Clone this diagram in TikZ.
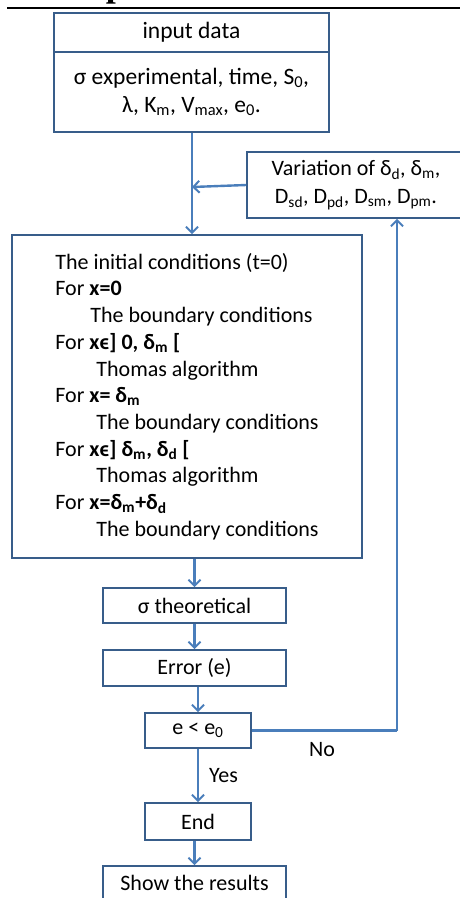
\documentclass[tikz,border=0pt]{standalone}
\usepackage{fontspec}
\setmainfont{Carlito}
\newfontfamily\headfont{Liberation Serif}
\usetikzlibrary{arrows.meta,positioning,calc}

\definecolor{boxline}{HTML}{385D8A}
\definecolor{flowline}{HTML}{4A7EBB}

\tikzset{
  blk/.style={draw=boxline, line width=1.8pt, inner sep=0pt, align=center,
              font=\fontsize{22}{28}\selectfont},
  flow/.style={draw=flowline, line width=2.4pt,
               -{Straight Barb[length=6pt,width=12pt,line width=2pt]}},
  loop/.style={draw=flowline, line width=2.4pt},
  lbl/.style={font=\fontsize{22}{28}\selectfont, inner sep=0pt}
}

\begin{document}
\begin{tikzpicture}[x=1pt,y=-1pt]
  \useasboundingbox (0,0) rectangle (459,898);
  % cut off heading of the page
  \node[anchor=base, inner sep=0pt, font=\headfont\bfseries\fontsize{36}{36}\selectfont] (head) at (116,-4) {p};
  \draw[line width=1.6pt] (7,8) -- (470,8);

  % input block
  \node[blk, minimum width=275pt, minimum height=39pt,
        font=\fontsize{23.5}{28}\selectfont] (input) at (191.5,32.5) {input data};
  \node[blk, minimum width=275pt, minimum height=80pt,
        font=\fontsize{23.5}{28}\selectfont] (param) at (191.5,92)
    {σ experimental, time, S\textsubscript{0},\\ λ, K\textsubscript{m}, V\textsubscript{max}, e\textsubscript{0}.};

  % variation of the parameters
  \node[blk, minimum width=218pt, minimum height=66pt] (vary) at (356,185)
    {Variation of δ\textsubscript{d}, δ\textsubscript{m},\\ D\textsubscript{sd}, D\textsubscript{pd}, D\textsubscript{sm}, D\textsubscript{pm}.};

  % numerical scheme
  \node[blk, minimum width=350pt, minimum height=323pt, align=left,
        font=\fontsize{22}{26.7}\selectfont] (scheme) at (187,396.5)
    {The initial conditions (t=0)\\
     For \textbf{x=0}\\
     \hspace{35pt}The boundary conditions\\
     For \textbf{xϵ] 0, δ\textsubscript{m} [}\\
     \hspace{41pt}Thomas algorithm\\
     For \textbf{x= δ\textsubscript{m}}\\
     \hspace{41pt}The boundary conditions\\
     For \textbf{xϵ] δ\textsubscript{m}, δ\textsubscript{d} [}\\
     \hspace{41pt}Thomas algorithm\\
     For \textbf{x=δ\textsubscript{m}+δ\textsubscript{d}}\\
     \hspace{41pt}The boundary conditions};

  \node[blk, minimum width=183pt, minimum height=35pt] (theo) at (194.5,605.5) {σ theoretical};
  \node[blk, minimum width=183pt, minimum height=36pt] (err) at (194.5,668) {Error (e)};
  \node[blk, minimum width=106pt, minimum height=35pt] (test) at (198,730.5) {e < e\textsubscript{0}};
  \node[blk, minimum width=106pt, minimum height=37pt] (stop) at (198,821.5) {End};
  \node[blk, minimum width=183pt, minimum height=34pt] (show) at (194.5,883) {Show the results};

  % connectors
  \coordinate (join) at (192,187);
  \coordinate (turn) at (397,730.5);
  \draw[flow] (param.south -| join) -- (scheme.north -| join);
  \draw[flow] (vary.west) -- (join);
  \draw[flow] (scheme.south -| theo) -- (theo.north);
  \draw[flow] (theo) -- (err);
  \draw[flow] (err.south -| test) -- (test.north);
  \draw[flow] (test) -- node[lbl, right=10pt] (yes) {Yes} (stop);
  \draw[flow] (stop.south -| show) -- (show.north);
  \draw[loop] (test.east) -- (turn);
  \draw[flow] (turn) -- (vary.south -| turn);
  \node[lbl] (no) at (322,750) {No};
\end{tikzpicture}
\end{document}
